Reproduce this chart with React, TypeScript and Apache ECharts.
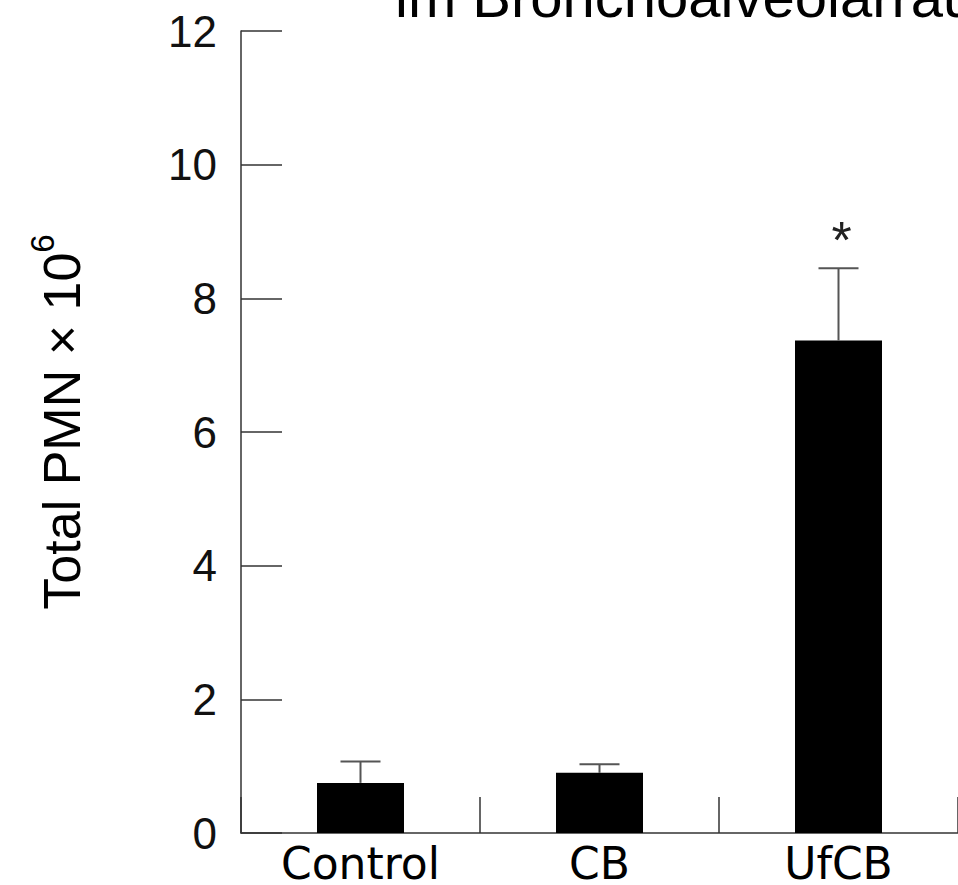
import React, { useEffect, useRef } from "react";
import * as echarts from "echarts";

const categories = ["Control", "CB", "UfCB"];
const means = [0.75, 0.9, 7.37];
const errorTops = [1.07, 1.03, 8.45];
const significance = ["", "", "*"];
const yMin = 0;
const yMax = 12;
const yInterval = 2;
const titleText = "im Bronchoalveolarraum";

export default function App() {
  const ref = useRef<HTMLDivElement>(null);
  useEffect(() => {
    if (!ref.current) return;
    const chart = echarts.init(ref.current, null, { renderer: "svg" });
    const axisColor = "#333";
    chart.setOption({
      animation: false,
      backgroundColor: "#fff",
      grid: { left: 241, top: 31, height: 802, width: 720, containLabel: false },
      xAxis: {
        type: "category",
        data: categories,
        axisLine: { show: true, lineStyle: { color: axisColor, width: 1.5 } },
        axisTick: { show: true, inside: true, length: 36, lineStyle: { color: axisColor, width: 1.5 } },
        axisLabel: { fontSize: 44, lineHeight: 44, fontFamily: "DejaVu Sans", color: "#000", margin: 8 },
        splitLine: { show: false },
      },
      yAxis: {
        type: "value",
        min: yMin,
        max: yMax,
        interval: yInterval,
        axisLine: { show: true, lineStyle: { color: axisColor, width: 1.5 } },
        axisTick: { show: true, inside: true, length: 41, lineStyle: { color: axisColor, width: 1.5 } },
        axisLabel: { fontSize: 44, fontFamily: "Liberation Sans", color: "#111", margin: 24 },
        splitLine: { show: false },
      },
      graphic: [
        {
          type: "text",
          x: 395,
          y: -4,
          style: {
            text: titleText,
            font: "58px 'Liberation Sans'",
            fill: "#000",
            textAlign: "left",
            textVerticalAlign: "middle",
          },
        },
        {
          type: "text",
          x: 57,
          y: 422,
          rotation: Math.PI / 2,
          style: {
            text: "{a|Total PMN × 10}{b|6}",
            textAlign: "center",
            textVerticalAlign: "middle",
            rich: {
              a: { fontSize: 52, fontFamily: "Liberation Sans", fill: "#000", lineHeight: 62, verticalAlign: "bottom" },
              b: { fontSize: 33, fontFamily: "Liberation Sans", fill: "#000", lineHeight: 62, verticalAlign: "top" },
            },
          },
        },
      ],
      series: [
        {
          type: "bar",
          data: means,
          barWidth: 87,
          itemStyle: { color: "#000" },
          z: 2,
        },
        {
          type: "custom",
          z: 3,
          data: categories.map((c, i) => [i, means[i], errorTops[i]]),
          renderItem: (params: any, api: any) => {
            const i = api.value(0);
            const top = api.coord([i, api.value(1)]);
            const up = api.coord([i, api.value(2)]);
            const half = 20;
            const style = { stroke: "#555", lineWidth: 2 };
            const children: any[] = [
              { type: "line", shape: { x1: top[0], y1: top[1], x2: up[0], y2: up[1] }, style },
              { type: "line", shape: { x1: up[0] - half, y1: up[1], x2: up[0] + half, y2: up[1] }, style },
            ];
            const sig = significance[params.dataIndex];
            if (sig) {
              children.push({
                type: "text",
                x: up[0] + 3,
                y: up[1] - 28,
                style: {
                  text: sig,
                  font: "52px 'Liberation Sans'",
                  fill: "#222",
                  textAlign: "center",
                  textVerticalAlign: "middle",
                },
              });
            }
            return { type: "group", children };
          },
        },
      ],
    });
    return () => chart.dispose();
  }, []);
  return (
    <div
      ref={ref}
      style={{ position: "absolute", left: 0, top: 0, width: 958, height: 885 }}
    />
  );
}
